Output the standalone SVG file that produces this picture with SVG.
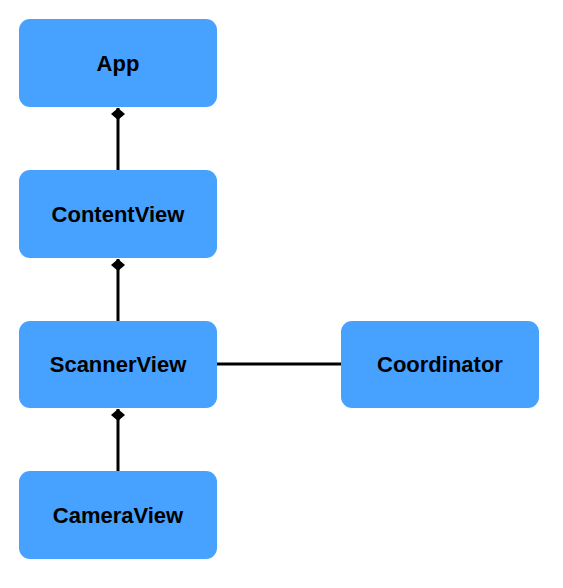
<svg xmlns="http://www.w3.org/2000/svg" width="563" height="588" viewBox="0 0 563 588">
<defs>
<style>
.box{fill:#46A2FE;}
.lbl{font-family:"Liberation Sans",Arial,sans-serif;font-weight:bold;font-size:22px;fill:#000;text-anchor:middle;dominant-baseline:central;}
.edge{stroke:#000;stroke-width:3;fill:none;}
</style>
<marker id="dia" viewBox="0 0 12 14" refX="12" refY="7" markerWidth="12" markerHeight="14" markerUnits="userSpaceOnUse" orient="auto">
<path d="M0,7 L6,0 L12,7 L6,14 Z" fill="#000"/>
</marker>
</defs>
<rect width="563" height="588" fill="#fff"/>
<g id="connectors">
<path class="edge" d="M118,170 L118,108" marker-end="url(#dia)"/>
<path class="edge" d="M118,321 L118,259" marker-end="url(#dia)"/>
<path class="edge" d="M118,471 L118,409" marker-end="url(#dia)"/>
<path class="edge" d="M217,364 L341,364"/>
</g>
<g id="app"><rect class="box" x="19" y="19" width="198" height="88" rx="11"/><text class="lbl" x="118" y="63">App</text></g>
<g id="contentview"><rect class="box" x="19" y="170" width="198" height="88" rx="11"/><text class="lbl" x="118" y="214">ContentView</text></g>
<g id="scannerview"><rect class="box" x="19" y="321" width="198" height="87" rx="11"/><text class="lbl" x="118" y="364">ScannerView</text></g>
<g id="cameraview"><rect class="box" x="19" y="471" width="198" height="88" rx="11"/><text class="lbl" x="118" y="515">CameraView</text></g>
<g id="coordinator"><rect class="box" x="341" y="321" width="198" height="87" rx="11"/><text class="lbl" x="440" y="364">Coordinator</text></g>
</svg>
